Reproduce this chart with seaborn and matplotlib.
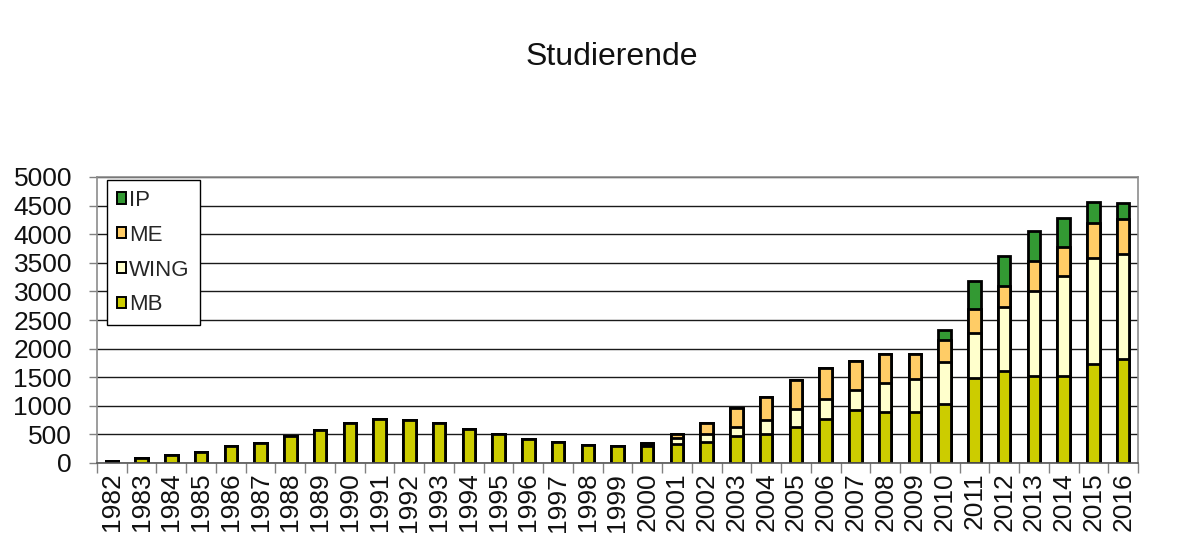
# -*- coding: utf-8 -*-
"""
Studierende pro Jahr (gestapelte Balken, MB / WING / ME / IP)
"""

#%% import library
import numpy as np
import pandas as pd
import seaborn as sns
import matplotlib.pyplot as plt
from matplotlib.patches import Patch
from matplotlib.ticker import FixedLocator

#%% data
years = [str(y) for y in range(1982, 2017)]

mb = [40, 90, 140, 200, 290, 350, 480, 580, 705, 765,
      750, 705, 600, 515, 425, 360, 320, 300, 290, 340,
      360, 465, 515, 630, 765, 920, 890, 890, 1035, 1490,
      1600, 1515, 1515, 1735, 1810]

wing = [0, 0, 0, 0, 0, 0, 0, 0, 0, 0,
        0, 0, 0, 0, 0, 0, 0, 0, 30, 95,
        155, 165, 245, 320, 360, 360, 505, 585, 725, 785,
        1135, 1500, 1760, 1850, 1845]

me = [0, 0, 0, 0, 0, 0, 0, 0, 0, 0,
      0, 0, 0, 0, 0, 0, 0, 0, 30, 75,
      190, 330, 395, 495, 535, 510, 510, 435, 390, 420,
      365, 510, 505, 605, 610]

ip = [0, 0, 0, 0, 0, 0, 0, 0, 0, 0,
      0, 0, 0, 0, 0, 0, 0, 0, 0, 0,
      0, 0, 0, 0, 0, 0, 0, 0, 175, 495,
      525, 525, 500, 380, 285]

series = ["MB", "WING", "ME", "IP"]
colors = {"MB": "#CCCC00", "WING": "#FFFFCC", "ME": "#FFCC66", "IP": "#339933"}

#%% préparation (cumul pour empilement)
df = pd.DataFrame({"year": years, "MB": mb, "WING": wing, "ME": me, "IP": ip})
cum = df[series].cumsum(axis=1)
cum["year"] = df["year"]

#%% plot
sns.set_theme(style="white")
plt.rcParams["font.family"] = ["Liberation Sans", "DejaVu Sans"]

fig = plt.figure(figsize=(12, 5.45), dpi=100)
ax = fig.add_axes([97 / 1200, 82 / 545, 1041 / 1200, 286 / 545])

# gridlines under bars
ax.set_axisbelow(True)
ax.yaxis.grid(True, color="#1a1a1a", linewidth=1.0)

# tallest cumulated first, then the lower ones on top
for s in reversed(series):
    sns.barplot(data=cum, x="year", y=s, order=years, color=colors[s],
                saturation=1, width=0.42, edgecolor="black", linewidth=2.0,
                ax=ax)

ax.set_ylim(0, 5000)
ax.set_xlim(-0.5, len(years) - 0.5)
ax.set_yticks(np.arange(0, 5001, 500))
ax.set_xlabel("")
ax.set_ylabel("")

ax.tick_params(axis="y", labelsize=19, length=6, width=1, color="#808080",
               pad=12, labelcolor="#111111", left=True)
ax.tick_params(axis="x", which="major", labelsize=19, length=0, pad=7,
               labelrotation=90, labelcolor="#111111")
ax.xaxis.set_minor_locator(FixedLocator(np.arange(-0.5, len(years), 1.0)))
ax.tick_params(axis="x", which="minor", length=7, width=1, color="#808080",
               bottom=True)

for side in ["left", "right", "top"]:
    ax.spines[side].set_visible(True)
    ax.spines[side].set_color("#8c8c8c")
    ax.spines[side].set_linewidth(1.2)
ax.spines["bottom"].set_color("#555555")
ax.spines["bottom"].set_linewidth(1.2)

# legend (IP en haut)
handles = [Patch(facecolor=colors[s], edgecolor="black", linewidth=1.4, label=s)
           for s in reversed(series)]
leg = ax.legend(handles=handles, loc="upper left",
                bbox_to_anchor=(10 / 1041, 1 - 3 / 286), borderaxespad=0,
                fontsize=16, handlelength=0.4, handleheight=0.4,
                handletextpad=0.15, labelspacing=0.62, borderpad=0.45,
                fancybox=False, framealpha=1, edgecolor="black")
leg.get_frame().set_linewidth(1.0)

fig.text(612 / 1200, 1 - 57 / 545, "Studierende", ha="center", va="center",
         fontsize=23, color="#111111")

fig.savefig("out.png", dpi=100)
